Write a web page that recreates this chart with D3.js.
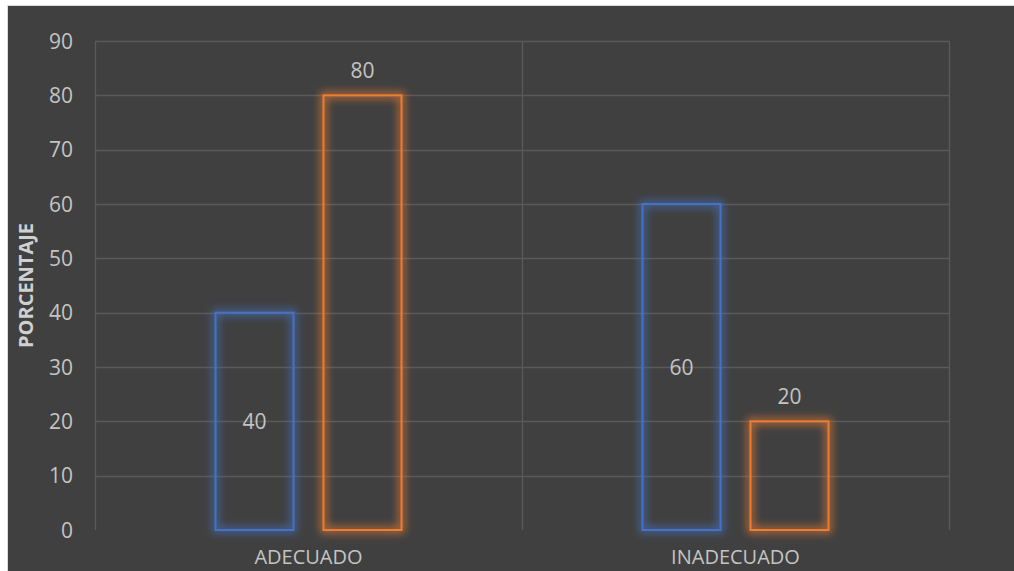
<!DOCTYPE html>
<html>
<head>
<meta charset="utf-8">
<script src="https://cdn.jsdelivr.net/npm/d3@7"></script>
<style>
  html, body { margin: 0; padding: 0; background: #fff; }
  svg { display: block; font-family: "Open Sans", Lato, sans-serif; }
</style>
</head>
<body>
<div id="chart"></div>
<script>
// categories / series / values
const categories = ["ADECUADO", "INADECUADO"];
const seriesNames = ["s1", "s2"];
const values = { s1: [40, 60], s2: [80, 20] };
const seriesColors = ["#4472C4", "#ED7D31"];
const yTicks = [0, 10, 20, 30, 40, 50, 60, 70, 80, 90];
const yTitle = "PORCENTAJE";

const W = 1014, H = 571;
const M = { left: 95, right: 65, top: 41, bottom: 41 };
const textCol = "#c4c4c4";

const svg = d3.select("#chart").append("svg")
  .attr("width", W).attr("height", H);

// glow filter for the outlined bars
const defs = svg.append("defs");
const f = defs.append("filter").attr("id", "glow")
  .attr("x", "-30%").attr("y", "-30%").attr("width", "160%").attr("height", "160%");
f.append("feMorphology").attr("in", "SourceGraphic").attr("operator", "dilate").attr("radius", 1.5).attr("result", "d");
f.append("feGaussianBlur").attr("in", "d").attr("stdDeviation", 4).attr("result", "b");
f.append("feComponentTransfer").attr("in", "b").attr("result", "b2")
  .append("feFuncA").attr("type", "linear").attr("slope", 0.75);
const fm = f.append("feMerge");
fm.append("feMergeNode").attr("in", "b2");
fm.append("feMergeNode").attr("in", "SourceGraphic");

// chart background with light frame
svg.append("rect")
  .attr("x", 7.5).attr("y", 5.5).attr("width", W).attr("height", H)
  .attr("fill", "#404040").attr("stroke", "#d9d9d9").attr("stroke-width", 1);

const x = d3.scaleBand().domain(categories).range([M.left, W - M.right]).padding(0);
const xs = d3.scaleBand().domain(seriesNames).range([0, x.bandwidth()])
  .paddingInner(30 / 108).paddingOuter(1.1157);
const y = d3.scaleLinear().domain([0, 90]).range([H - M.bottom, M.top]);

// horizontal gridlines
svg.append("g").selectAll("line").data(yTicks.filter(d => d > 0)).join("line")
  .attr("x1", M.left).attr("x2", W - M.right)
  .attr("y1", d => Math.round(y(d)) + 0.5).attr("y2", d => Math.round(y(d)) + 0.5)
  .attr("stroke", "#5a5a5a").attr("stroke-width", 1.3);

// vertical category boundaries
const bounds = [x.range()[0], ...categories.map(c => x(c) + x.bandwidth())];
svg.append("g").selectAll("line").data(bounds).join("line")
  .attr("x1", d => Math.round(d) + 0.5).attr("x2", d => Math.round(d) + 0.5)
  .attr("y1", y(90)).attr("y2", y(0))
  .attr("stroke", "#5a5a5a").attr("stroke-width", 1.3);

// y tick labels
svg.append("g").selectAll("text").data(yTicks).join("text")
  .attr("x", 73).attr("y", d => y(d)).attr("dy", "0.36em")
  .attr("text-anchor", "end").attr("fill", textCol).attr("font-size", 21)
  .text(d => d);

// y title
svg.append("text")
  .attr("transform", `translate(33,${(y(0) + y(90)) / 2}) rotate(-90)`)
  .attr("text-anchor", "middle").attr("fill", "#d0d0d0")
  .attr("font-size", 20).attr("font-weight", "bold")
  .text(yTitle);

// category labels (kept just inside the bottom edge)
svg.append("g").selectAll("text").data(categories).join("text")
  .attr("x", d => x(d) + x.bandwidth() / 2).attr("y", 564)
  .attr("text-anchor", "middle").attr("fill", textCol).attr("font-size", 20)
  .text(d => d);

// bars
const rows = [];
categories.forEach((c, i) => seriesNames.forEach((s, j) =>
  rows.push({ cat: c, s, j, v: values[s][i] })));

svg.append("g").selectAll("rect").data(rows).join("rect")
  .attr("x", d => x(d.cat) + xs(d.s))
  .attr("y", d => y(d.v))
  .attr("width", xs.bandwidth())
  .attr("height", d => y(0) - y(d.v))
  .attr("fill", "none")
  .attr("stroke", d => seriesColors[d.j])
  .attr("stroke-width", 2)
  .attr("filter", "url(#glow)");

// data labels: first series centred, second series outside end
svg.append("g").selectAll("text").data(rows).join("text")
  .attr("x", d => x(d.cat) + xs(d.s) + xs.bandwidth() / 2)
  .attr("y", d => d.j === 0 ? (y(d.v) + y(0)) / 2 : y(d.v) - 25)
  .attr("dy", "0.36em")
  .attr("text-anchor", "middle").attr("fill", textCol).attr("font-size", 21)
  .text(d => d.v);
</script>
</body>
</html>
